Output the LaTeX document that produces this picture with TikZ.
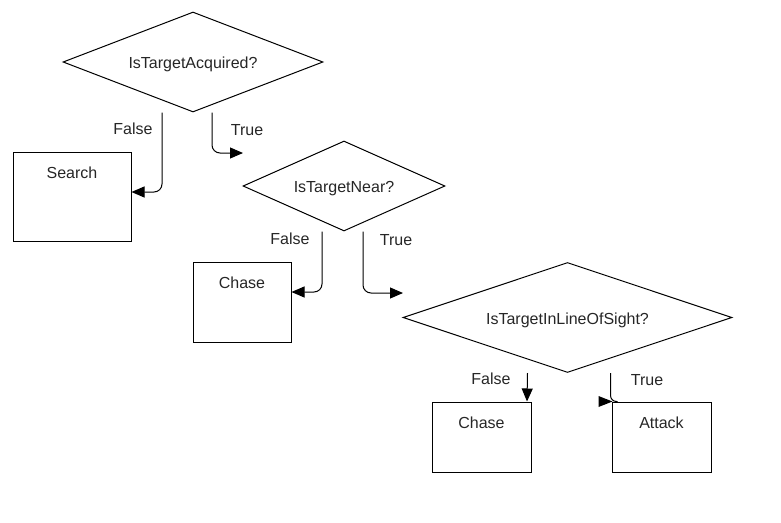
\documentclass[tikz,border=0pt]{standalone}
\usepackage{fontspec}
\setmainfont{Liberation Sans}
\usetikzlibrary{shapes.geometric,arrows.meta,calc}
\begin{document}
\begin{tikzpicture}[x=1pt,y=-1pt,line width=1pt,
  font=\fontsize{16}{19}\selectfont,
  dia/.style={diamond,draw,inner sep=0pt},
  box/.style={rectangle,draw,inner sep=0pt},
  txt/.style={anchor=base,inner sep=0pt,text=black!85},
  conn/.style={draw,rounded corners=8pt,-{Triangle[length=13pt,width=11pt]}}]
\useasboundingbox (0,0) rectangle (781,522);
% decisions
\node[dia,minimum width=260pt,minimum height=100pt] (d1) at (193,62) {};
\node[dia,minimum width=202pt,minimum height=90pt] (d2) at (344,186) {};
\node[dia,minimum width=329pt,minimum height=110pt] (d3) at (567.5,317.5) {};
\node[txt] (td1) at (193,68) {IsTargetAcquired?};
\node[txt] (td2) at (344,192) {IsTargetNear?};
\node[txt] (td3) at (567.5,324) {IsTargetInLineOfSight?};
% actions
\node[box,minimum width=118pt,minimum height=89pt] (search) at (72,196.5) {};
\node[box,minimum width=98pt,minimum height=80pt] (chase1) at (242,302) {};
\node[box,minimum width=99pt,minimum height=70pt] (chase2) at (481.5,437) {};
\node[box,minimum width=99pt,minimum height=70pt] (attack) at (661.5,437) {};
\node[txt] (ts) at (72,178) {Search};
\node[txt] (tc1) at (242,288) {Chase};
\node[txt] (tc2) at (481.5,428) {Chase};
\node[txt] (ta) at (661.5,428) {Attack};
% free ends
\coordinate (t1) at (243,153);
\coordinate (t2) at (403,293);
% connectors
\draw[conn] ($(d1.south)+(-31,0)$) |- ($(search.east)+(0,-4.5)$);
\draw[conn] ($(d1.south)+(19,0)$) |- (t1);
\draw[conn] ($(d2.south)+(-22,0)$) |- ($(chase1.east)+(0,-10)$);
\draw[conn] ($(d2.south)+(19,0)$) |- (t2);
\draw[conn] ($(d3.south)+(-40,0)$) -- ($(chase2.north)+(45.5,0)$);
\draw[rounded corners=6pt] ($(d3.south)+(43,0)$) |- ($(attack.north west)+(6,0)$);
\fill ($(attack.north west)+(-13,-5.5)$) -- ($(attack.north west)+(1,0)$) -- ($(attack.north west)+(-13,5.5)$) -- cycle;
% labels
\node[txt] (l1) at (133,134) {False};
\node[txt] (l2) at (247,135) {True};
\node[txt] (l3) at (290,244) {False};
\node[txt] (l4) at (396,245) {True};
\node[txt] (l5) at (491,384) {False};
\node[txt] (l6) at (647,385) {True};
\end{tikzpicture}
\end{document}
